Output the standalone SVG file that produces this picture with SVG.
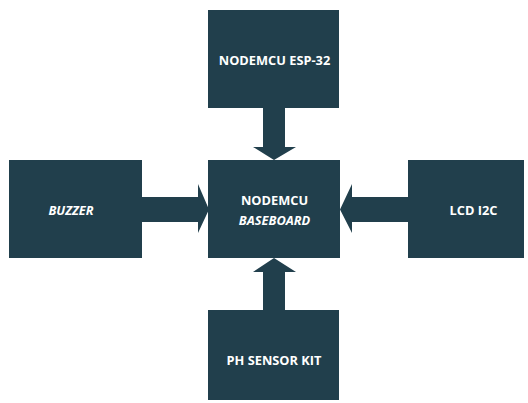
<svg xmlns="http://www.w3.org/2000/svg" width="528" height="403" viewBox="0 0 528 403">
<style>
.box{fill:#213F4C;}
.arrow{fill:#213F4C;}
.t{fill:#FFFFFF;font-family:"Open Sans","Liberation Sans",sans-serif;font-weight:bold;font-size:12.8px;text-anchor:middle;}
.i{font-style:italic;}
</style>
<rect x="0" y="0" width="528" height="403" fill="#FFFFFF"/>
<g id="connectors">
<polygon class="arrow" points="263,108 285,108 285,147 296,147 274,160 253,147 263,147"/>
<polygon class="arrow" points="263,310 285,310 285,272 296,272 274,258 253,272 263,272"/>
<polygon class="arrow" points="142,197 198,197 198,184 209,209.5 198,233 198,222 142,222"/>
<polygon class="arrow" points="408,197 352,197 352,184 340,209.5 352,233 352,222 408,222"/>
</g>
<g id="esp32">
<rect class="box" x="208" y="10" width="131" height="98"/>
<text class="t" x="274.5" y="65">NODEMCU ESP-32</text>
</g>
<g id="baseboard">
<rect class="box" x="208" y="160" width="132" height="98"/>
<text class="t" x="274.5" y="205">NODEMCU</text>
<text class="t i" x="274.5" y="225">BASEBOARD</text>
</g>
<g id="buzzer">
<rect class="box" x="9" y="160" width="133" height="98"/>
<text class="t i" x="71" y="215">BUZZER</text>
</g>
<g id="lcd">
<rect class="box" x="408" y="160" width="116" height="98"/>
<text class="t" x="473.5" y="215">LCD I2C</text>
</g>
<g id="phsensor">
<rect class="box" x="208" y="310" width="131" height="90"/>
<text class="t" x="274" y="365">PH SENSOR KIT</text>
</g>
</svg>
